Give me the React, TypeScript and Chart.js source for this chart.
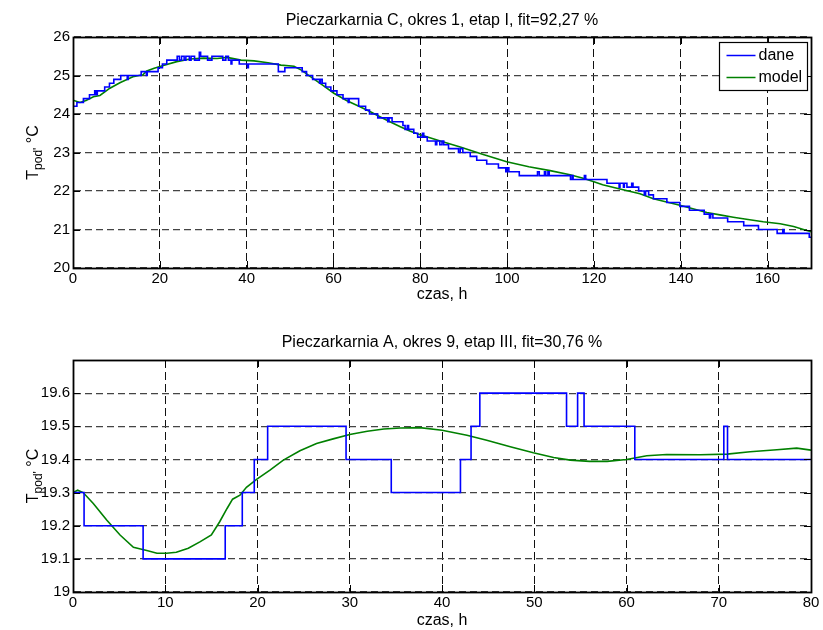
import React, { useEffect, useRef } from 'react';
import { Chart, registerables } from 'chart.js';

Chart.register(...registerables);

const FONT = "'Liberation Sans', Arial, Helvetica, sans-serif";

// ---------- top subplot ----------
const topTitle = 'Pieczarkarnia C, okres 1, etap I, fit=92,27 %';
const topXTicks = [0, 20, 40, 60, 80, 100, 120, 140, 160];
const topYTicks = [20, 21, 22, 23, 24, 25, 26];
const topDaneT = [0, 0.9, 2.4, 3.8, 5.0, 5.3, 5.6, 7.3, 8.4, 9.4, 11.0, 12.5, 12.7, 15.7, 16.9, 17.1, 19.6, 20.6, 21.6, 24.0, 24.5, 25.0, 25.6, 26.0, 26.8, 27.2, 28.0, 29.1, 29.4, 31.0, 32.0, 34.5, 35.2, 35.8, 36.4, 36.6, 38.3, 40.2, 40.4, 47.3, 48.8, 52.8, 53.8, 55.2, 56.8, 57.0, 57.4, 58.2, 59.4, 60.8, 62.2, 63.4, 63.6, 65.8, 67.4, 68.3, 70.2, 72.5, 72.8, 73.5, 76.0, 76.5, 77.0, 77.3, 78.5, 79.4, 80.5, 80.8, 81.6, 83.5, 83.8, 84.5, 85.0, 85.4, 86.5, 88.8, 89.2, 89.8, 91.5, 93.0, 95.3, 98.0, 99.7, 100.0, 100.4, 102.8, 107.0, 107.4, 108.6, 108.9, 109.4, 109.7, 114.6, 115.0, 115.2, 117.8, 118.1, 123.0, 125.8, 126.0, 126.8, 127.0, 127.6, 128.7, 129.0, 130.3, 131.6, 131.9, 132.6, 133.7, 136.8, 139.8, 142.0, 145.4, 146.6, 146.9, 147.4, 150.8, 154.5, 157.9, 162.2, 163.5, 163.8, 169.6, 170];
const topDaneV = [24.2, 24.3, 24.4, 24.5, 24.6, 24.5, 24.6, 24.7, 24.8, 24.9, 25.0, 24.9, 25.0, 25.1, 25.0, 25.1, 25.2, 25.3, 25.4, 25.5, 25.4, 25.5, 25.4, 25.5, 25.4, 25.5, 25.4, 25.6, 25.5, 25.4, 25.5, 25.4, 25.5, 25.4, 25.3, 25.4, 25.3, 25.2, 25.3, 25.1, 25.2, 25.1, 25.0, 24.9, 24.8, 24.9, 24.8, 24.7, 24.6, 24.5, 24.4, 24.3, 24.4, 24.2, 24.1, 24.0, 23.9, 23.8, 23.9, 23.8, 23.7, 23.6, 23.7, 23.6, 23.5, 23.4, 23.5, 23.4, 23.3, 23.2, 23.3, 23.2, 23.3, 23.2, 23.1, 23.0, 23.1, 23.0, 22.9, 22.8, 22.7, 22.6, 22.5, 22.6, 22.5, 22.4, 22.5, 22.4, 22.5, 22.4, 22.5, 22.4, 22.3, 22.4, 22.3, 22.4, 22.3, 22.2, 22.1, 22.2, 22.1, 22.2, 22.1, 22.2, 22.1, 22.0, 21.9, 22.0, 21.9, 21.8, 21.7, 21.6, 21.5, 21.4, 21.3, 21.4, 21.3, 21.2, 21.1, 21.0, 20.9, 21.0, 20.9, 20.8, 20.8];
const topModelT = [0, 1.6, 3.0, 4.7, 6.2, 8.5, 10.8, 13.8, 16.1, 17.0, 18.7, 20.8, 23.9, 27.0, 30.1, 33.2, 35.5, 38.7, 41.7, 44.9, 47.9, 50.9, 52.6, 54.7, 57.5, 60.1, 63.0, 66.1, 68.5, 70.7, 73.0, 75.4, 77.7, 80.0, 84.6, 89.2, 94.5, 99.9, 105.0, 109.9, 114.5, 117.5, 120.0, 122.0, 126.0, 130.6, 133.7, 136.5, 139.8, 143.0, 146.0, 149.0, 152.1, 155.5, 159.0, 162.9, 166.0, 170.0];
const topModelV = [24.36, 24.30, 24.35, 24.45, 24.48, 24.67, 24.81, 24.97, 25.02, 25.12, 25.19, 25.26, 25.36, 25.43, 25.45, 25.44, 25.47, 25.40, 25.38, 25.33, 25.27, 25.24, 25.14, 24.97, 24.75, 24.54, 24.35, 24.19, 24.06, 23.93, 23.80, 23.67, 23.55, 23.46, 23.30, 23.14, 22.95, 22.76, 22.63, 22.53, 22.42, 22.33, 22.24, 22.16, 22.05, 21.93, 21.80, 21.72, 21.63, 21.53, 21.44, 21.38, 21.32, 21.26, 21.20, 21.15, 21.08, 20.94];

// ---------- bottom subplot ----------
const botTitle = 'Pieczarkarnia A, okres 9, etap III, fit=30,76 %';
const botXTicks = [0, 10, 20, 30, 40, 50, 60, 70, 80];
const botYTicks = [19, 19.1, 19.2, 19.3, 19.4, 19.5, 19.6];
const botDaneT = [0, 1.2, 7.6, 16.5, 18.35, 19.65, 21.1, 29.6, 34.5, 42.0, 43.15, 44.1, 53.5, 54.7, 55.4, 60.9, 70.55, 70.95, 80];
const botDaneV = [19.3, 19.2, 19.1, 19.2, 19.3, 19.4, 19.5, 19.4, 19.3, 19.4, 19.5, 19.6, 19.5, 19.6, 19.5, 19.4, 19.5, 19.4, 19.4];
const botModelT = [0, 0.5, 1.1, 2.2, 3.65, 5.1, 6.55, 8.0, 9.1, 10.15, 11.2, 12.5, 13.8, 15.0, 15.9, 16.7, 17.3, 18.1, 18.8, 19.9, 21.35, 22.8, 24.6, 26.4, 28.2, 30.0, 31.9, 33.7, 35.5, 37.6, 40.0, 42.7, 44.85, 47.4, 49.9, 52.1, 53.9, 56.0, 57.9, 60.0, 62.2, 64.35, 68.0, 70.9, 73.4, 76.3, 78.45, 80.0];
const botModelV = [19.300, 19.307, 19.300, 19.267, 19.217, 19.172, 19.135, 19.125, 19.117, 19.117, 19.120, 19.132, 19.152, 19.172, 19.212, 19.252, 19.280, 19.292, 19.316, 19.340, 19.368, 19.398, 19.426, 19.448, 19.462, 19.475, 19.485, 19.492, 19.495, 19.496, 19.488, 19.473, 19.458, 19.438, 19.420, 19.406, 19.398, 19.394, 19.394, 19.400, 19.411, 19.415, 19.414, 19.416, 19.423, 19.429, 19.434, 19.428];

const xLabel = 'czas, h';
const legendLabels = ['dane', 'model'];
const BLUE = '#0000ff';
const GREEN = '#008000';

const toPts = (t: number[], v: number[]) => t.map((x, i) => ({ x, y: v[i] }));

function drawYLabel(ctx: CanvasRenderingContext2D, x: number, yc: number) {
  const big = `16px ${FONT}`;
  const small = `12px ${FONT}`;
  const parts = [
    { t: 'T', f: big, dy: 0 },
    { t: "pod'", f: small, dy: 4 },
    { t: ' \u00B0C', f: big, dy: 0 },
  ];
  ctx.save();
  let total = 0;
  for (const p of parts) {
    ctx.font = p.f;
    total += ctx.measureText(p.t).width;
  }
  ctx.translate(x, yc);
  ctx.rotate(-Math.PI / 2);
  ctx.fillStyle = '#000';
  ctx.textBaseline = 'alphabetic';
  ctx.textAlign = 'left';
  let cx = -total / 2;
  for (const p of parts) {
    ctx.font = p.f;
    ctx.fillText(p.t, cx, p.dy);
    cx += ctx.measureText(p.t).width;
  }
  ctx.restore();
}

const matlabPlugin = {
  id: 'matlabAxes',
  afterDraw(chart: any, _args: any, opts: any) {
    const { ctx, chartArea } = chart;
    const { left, right, top, bottom } = chartArea;
    const xs = chart.scales.x;
    const ys = chart.scales.y;
    ctx.save();
    ctx.strokeStyle = '#000';
    ctx.lineWidth = 1;
    ctx.setLineDash([]);
    const TL = 7;
    ctx.beginPath();
    for (const t of xs.ticks) {
      const px = Math.round(xs.getPixelForValue(t.value)) + 0.5;
      ctx.moveTo(px, bottom);
      ctx.lineTo(px, bottom - TL);
      ctx.moveTo(px, top);
      ctx.lineTo(px, top + TL);
    }
    for (const t of ys.ticks) {
      const py = Math.round(ys.getPixelForValue(t.value)) + 0.5;
      ctx.moveTo(left, py);
      ctx.lineTo(left + TL, py);
      ctx.moveTo(right, py);
      ctx.lineTo(right - TL, py);
    }
    ctx.stroke();
    ctx.lineWidth = 1.8;
    ctx.strokeRect(Math.round(left) + 0.5, Math.round(top) + 0.5, Math.round(right - left), Math.round(bottom - top));

    // title, centred over the axes box
    ctx.fillStyle = '#000';
    ctx.font = `16px ${FONT}`;
    ctx.textAlign = 'center';
    ctx.textBaseline = 'middle';
    ctx.fillText(opts.title, (left + right) / 2, opts.titleY);

    if (opts.legend) {
      const bw = 88, bh = 48;
      const bx = Math.round(right - 4 - bw) + 0.5;
      const by = Math.round(top + 5) + 0.5;
      ctx.fillStyle = '#fff';
      ctx.fillRect(bx, by, bw, bh);
      ctx.lineWidth = 1.2;
      ctx.strokeStyle = '#000';
      ctx.strokeRect(bx, by, bw, bh);
      const colors = [BLUE, GREEN];
      ctx.font = `16px ${FONT}`;
      ctx.textBaseline = 'middle';
      ctx.textAlign = 'left';
      legendLabels.forEach((lab, i) => {
        const ly = by + 13 + i * 22;
        ctx.strokeStyle = colors[i];
        ctx.lineWidth = 1.5;
        ctx.beginPath();
        ctx.moveTo(bx + 7, ly);
        ctx.lineTo(bx + 36, ly);
        ctx.stroke();
        ctx.fillStyle = '#000';
        ctx.fillText(lab, bx + 39, ly);
      });
    }
    drawYLabel(ctx, 38, (top + bottom) / 2);
    ctx.restore();
  },
};

function makeConfig(p: {
  title: string; titleY: number; padTop: number;
  xMax: number; xTicks: number[]; yMin: number; yMax: number; yTicks: number[];
  xHeight: number; xTitlePad: number;
  dane: { x: number; y: number }[]; model: { x: number; y: number }[];
  legend: boolean; yFmt: (v: number) => string;
}) {
  const tickFont = { family: FONT, size: 15, weight: 'normal' as const };
  return {
    type: 'line' as const,
    data: {
      datasets: [
        { label: legendLabels[0], data: p.dane, borderColor: BLUE, borderWidth: 1.6, pointRadius: 0, stepped: 'before' as const, fill: false },
        { label: legendLabels[1], data: p.model, borderColor: GREEN, borderWidth: 1.6, pointRadius: 0, tension: 0, fill: false },
      ],
    },
    options: {
      animation: false as const,
      responsive: false,
      devicePixelRatio: 1,
      events: [] as any[],
      layout: { padding: { left: 0, right: 12, top: p.padTop, bottom: 0 } },
      plugins: {
        legend: { display: false },
        tooltip: { enabled: false },
        title: { display: false },
        matlabAxes: { legend: p.legend, title: p.title, titleY: p.titleY },
      },
      scales: {
        x: {
          type: 'linear' as const, min: 0, max: p.xMax,
          afterBuildTicks: (s: any) => { s.ticks = p.xTicks.map((v) => ({ value: v })); },
          afterFit: (s: any) => { s.height = p.xHeight; },
          ticks: { font: tickFont, color: '#000', padding: 2, maxRotation: 0, autoSkip: false, callback: (v: any) => String(v) },
          grid: { color: '#111', lineWidth: 1, drawTicks: false },
          border: { display: true, color: '#000', width: 1, dash: [8, 4] },
          title: { display: true, text: xLabel, color: '#000', font: { family: FONT, size: 16, weight: 'normal' as const }, padding: { top: 0, bottom: p.xTitlePad } },
        },
        y: {
          type: 'linear' as const, min: p.yMin, max: p.yMax,
          afterBuildTicks: (s: any) => { s.ticks = p.yTicks.map((v) => ({ value: v })); },
          afterFit: (s: any) => { s.width = 73; },
          ticks: { font: tickFont, color: '#000', padding: 3, autoSkip: false, callback: (v: any) => p.yFmt(Number(v)) },
          grid: { color: '#444', lineWidth: 1.2, drawTicks: false },
          border: { display: true, color: '#000', width: 1, dash: [7, 4] },
        },
      },
    },
    plugins: [matlabPlugin],
  };
}

function Plot({ config, width, height, top }: { config: any; width: number; height: number; top: number }) {
  const ref = useRef<HTMLCanvasElement | null>(null);
  useEffect(() => {
    if (!ref.current) return;
    const chart = new Chart(ref.current, config);
    return () => chart.destroy();
  }, [config]);
  return (
    <canvas
      ref={ref}
      width={width}
      height={height}
      style={{ position: 'absolute', left: 0, top, width, height, display: 'block' }}
    />
  );
}

const topConfig = makeConfig({
  title: topTitle, titleY: 20.5, padTop: 37,
  xMax: 170, xTicks: topXTicks, yMin: 20, yMax: 26, yTicks: topYTicks,
  xHeight: 37, xTitlePad: 1,
  dane: toPts(topDaneT, topDaneV), model: toPts(topModelT, topModelV),
  legend: true, yFmt: (v) => String(v),
});

const botConfig = makeConfig({
  title: botTitle, titleY: 38, padTop: 55,
  xMax: 80, xTicks: botXTicks, yMin: 19, yMax: 19.7, yTicks: botYTicks,
  xHeight: 38, xTitlePad: 0,
  dane: toPts(botDaneT, botDaneV), model: toPts(botModelT, botModelV),
  legend: false, yFmt: (v) => String(Math.round(v * 10) / 10),
});

export default function App() {
  return (
    <div style={{ position: 'fixed', left: 0, top: 0, width: 823, height: 630, background: '#fff', overflow: 'hidden' }}>
      <Plot config={topConfig} width={823} height={305} top={0} />
      <Plot config={botConfig} width={823} height={325} top={305} />
    </div>
  );
}
